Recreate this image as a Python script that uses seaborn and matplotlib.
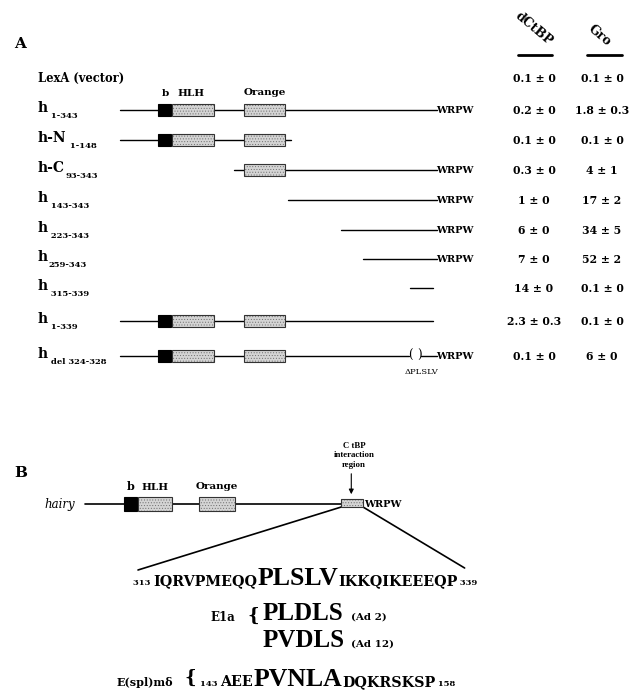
import numpy as np
import matplotlib
matplotlib.use("Agg")
import matplotlib.pyplot as plt
from matplotlib.patches import Rectangle
import seaborn as sns

# ---- panel A : constructs and interaction values ----
names = ["LexA (vector)", "h", "h-N", "h-C", "h", "h", "h", "h", "h", "h"]
subs = ["", " 1-343", " 1-148", "93-343", " 143-343", " 223-343", "259-343",
        " 315-339", " 1-339", " del 324-328"]
starts = [0, 1, 1, 93, 143, 223, 259, 315, 1, 1]
ends = [0, 343, 148, 343, 343, 343, 343, 339, 339, 343]
deletion = (324, 328)
dctbp_mean = [0.1, 0.2, 0.1, 0.3, 1, 6, 7, 14, 2.3, 0.1]
dctbp_sd = [0, 0, 0, 0, 0, 0, 0, 0, 0.3, 0]
gro_mean = [0.1, 1.8, 0.1, 4, 17, 34, 52, 0.1, 0.1, 6]
gro_sd = [0, 0.3, 0, 1, 2, 5, 2, 0, 0, 0]

domains = ["b", "HLH", "Orange"]
dom_start = [33, 47, 100]
dom_end = [46, 80, 140]
ctbp_region = (313, 339)

# ---- panel B : sequences ----
hairy_seq = [("313 ", "s"), ("IQRVPMEQQ", "m"), ("PLSLV", "l"),
             ("IKKQIKEEEQP", "m"), (" 339", "s")]
e1a_motifs = ["PLDLS", "PVDLS"]
e1a_strains = ["(Ad 2)", "(Ad 12)"]
espl_seq = [("143 ", "s"), ("AEE", "m"), ("PVNLA", "l"),
            ("DQKRSKSP", "m"), (" 158", "s")]

# schematic is not drawn to scale: residue -> x knots
res_knots = [1, 33, 47, 80, 100, 140, 143, 148, 223, 259, 315, 339, 343]
xa_knots = [120, 158, 172, 214, 244, 285, 288, 291, 341, 363, 410, 433, 437]
xb_knots = [85, 124, 138, 172, 199, 235, 237, 240, 275, 295, 343, 363, 366]
row_y = [78, 110, 140, 170, 200, 230, 259, 288, 321, 356]
SERIF = "DejaVu Serif"
NARROW = "Liberation Serif"
seq_style = {"s": (6, SERIF), "m": (10.3, SERIF), "l": (18.5, NARROW)}


def rx(r, knots=xa_knots):
    return float(np.interp(r, res_knots, knots))


def run_text(ax, x, y, parts, **kw):
    # lay text pieces of different size along one baseline
    r = ax.figure.canvas.get_renderer()
    x0 = x
    for s, size, dy, fam in parts:
        t = ax.text(x, y + dy, s, fontsize=size, family=fam, va="baseline",
                    ha="left", **kw)
        x += t.get_window_extent(renderer=r).width
    return x0, x


def box(ax, x0, x1, yc, h, kind):
    if kind == "b":
        ax.add_patch(Rectangle((x0, yc - h / 2), x1 - x0, h, facecolor="black",
                               edgecolor="black", lw=0.8, zorder=3))
    else:
        ax.add_patch(Rectangle((x0, yc - h / 2), x1 - x0, h, facecolor="#d4d4d4",
                               edgecolor="#6f6f6f", hatch="......", lw=0, zorder=3))
        ax.add_patch(Rectangle((x0, yc - h / 2), x1 - x0, h, facecolor="none",
                               edgecolor="#333333", lw=0.8, zorder=4))


sns.set_theme(style="white")
plt.rcParams["font.family"] = [SERIF]
plt.rcParams["text.color"] = "black"
plt.rcParams["hatch.linewidth"] = 0.4

fig = plt.figure(figsize=(6.42, 6.91), dpi=100)
ax = fig.add_axes([0, 0, 1, 1])
ax.set_xlim(0, 642)
ax.set_ylim(691, 0)
ax.axis("off")

# ---------------- panel A ----------------
ax.text(14, 48, "A", fontsize=11, fontweight="bold", va="baseline")
ax.text(534, 29, "dCtBP", fontsize=9, fontweight="bold", rotation=-40,
        ha="center", va="center")
ax.text(600, 36, "Gro", fontsize=9, fontweight="bold", rotation=-40,
        ha="center", va="center")
ax.plot([518, 552], [55, 55], color="black", lw=2)
ax.plot([587, 622], [55, 55], color="black", lw=2)

for i, name in enumerate(names):
    y = row_y[i]
    if subs[i]:
        run_text(ax, 38, y + 2, [(name, 10, 0, SERIF), (subs[i], 6, 6, SERIF)],
                 fontweight="bold")
    else:
        ax.text(38, y + 4, name, fontsize=8.3, fontweight="bold", va="baseline")
    ax.text(534, y, f"{dctbp_mean[i]:g} ± {dctbp_sd[i]:g}", fontsize=7.8,
            fontweight="bold", ha="center", va="center")
    ax.text(602, y, f"{gro_mean[i]:g} ± {gro_sd[i]:g}", fontsize=7.8,
            fontweight="bold", ha="center", va="center")
    if ends[i] == 0:
        continue
    if "del" in subs[i]:
        xl, xr = rx(deletion[0] - 10), rx(deletion[1] - 2)
        ax.plot([rx(starts[i]), xl], [y, y], color="black", lw=1)
        ax.plot([xr, rx(ends[i])], [y, y], color="black", lw=1)
        ax.text(xl - 1, y - 1, "(", fontsize=8.5, ha="left", va="center")
        ax.text(xr + 1, y - 1, ")", fontsize=8.5, ha="right", va="center")
        ax.text((xl + xr) / 2 + 7, 372, "\u0394PLSLV", fontsize=6, ha="center",
                va="center")
    else:
        ax.plot([rx(starts[i]), rx(ends[i])], [y, y], color="black", lw=1)
    for d, ds, de in zip(domains, dom_start, dom_end):
        if starts[i] <= ds and ends[i] >= de:
            box(ax, rx(ds), rx(de), y, 12, d)
    if ends[i] == 343:
        ax.text(rx(343) - 1, y, "WRPW", fontsize=7, fontweight="bold",
                ha="left", va="center")

# domain labels over the full-length construct
lab_x = [rx(dom_start[0]) + 7, rx(dom_start[1]) + 5, (rx(dom_start[2]) + rx(dom_end[2])) / 2]
ax.text(lab_x[0], 96, "b", fontsize=7.5, fontweight="bold", ha="center", va="baseline")
ax.text(lab_x[1], 96, "HLH", fontsize=7.5, fontweight="bold", ha="left", va="baseline")
ax.text(lab_x[2], 95, "Orange", fontsize=7.5, fontweight="bold", ha="center", va="baseline")

# ---------------- panel B ----------------
yb = 504
ax.text(14, 477, "B", fontsize=11, fontweight="bold", va="baseline")
ax.text(44, yb + 4, "hairy", fontsize=8.5, style="italic", va="baseline")
ax.plot([rx(1, xb_knots), rx(ctbp_region[0], xb_knots)], [yb, yb], color="black", lw=1.2)
for d, ds, de in zip(domains, dom_start, dom_end):
    box(ax, rx(ds, xb_knots), rx(de, xb_knots), yb, 14, d)
cx0, cx1 = rx(ctbp_region[0], xb_knots), rx(ctbp_region[1], xb_knots)
box(ax, cx0, cx1, yb - 1, 8, "ctbp")
ax.text(cx1 + 1, yb, "WRPW", fontsize=7, fontweight="bold", ha="left", va="center")
ax.text(rx(dom_start[0], xb_knots) + 7, 490, "b", fontsize=8, fontweight="bold",
        ha="center", va="baseline")
ax.text(rx(dom_start[1], xb_knots) + 3, 490, "HLH", fontsize=7.5, fontweight="bold",
        ha="left", va="baseline")
ax.text((rx(dom_start[2], xb_knots) + rx(dom_end[2], xb_knots)) / 2, 489, "Orange",
        fontsize=7.5, fontweight="bold", ha="center", va="baseline")
ax.text((cx0 + cx1) / 2 + 2, 455, "C tBP\ninteraction\nregion", fontsize=6.3,
        family=NARROW, fontweight="bold", ha="center", va="center", linespacing=1.25)
ax.annotate("", xy=(cx0 + 10, yb - 7), xytext=(cx0 + 10, 471),
            arrowprops=dict(arrowstyle="-|>", color="black", lw=0.8, mutation_scale=7))

# hairy CtBP-interaction sequence
parts = [(s, seq_style[k][0], 0, seq_style[k][1]) for s, k in hairy_seq]
sx0, sx1 = run_text(ax, 133, 585, parts, fontweight="bold")
ax.plot([cx0, sx0 + 5], [yb + 3, 570], color="black", lw=1.2)
ax.plot([cx1, sx1 - 13], [yb + 3, 568], color="black", lw=1.2)

# E1a motifs
ax.text(210, 621, "E1a", fontsize=8.5, fontweight="bold", va="baseline")
ax.text(247, 616, "{", fontsize=13, fontweight="bold", va="center")
for j, (m, st) in enumerate(zip(e1a_motifs, e1a_strains)):
    yy = 620 + 27 * j
    ax.text(263, yy, m, fontsize=18, family=NARROW, fontweight="bold", va="baseline")
    ax.text(351, yy, st, fontsize=7.5, fontweight="bold", va="baseline")

# E(spl)m delta motif
ax.text(117, 686, "E(spl)m\u03b4", fontsize=8, fontweight="bold", va="baseline")
ax.text(184, 678, "{", fontsize=13, fontweight="bold", va="center")
parts = [(s, seq_style[k][0], 0, seq_style[k][1]) for s, k in espl_seq]
run_text(ax, 200, 686, parts, fontweight="bold")

fig.savefig("out.png", dpi=100)
